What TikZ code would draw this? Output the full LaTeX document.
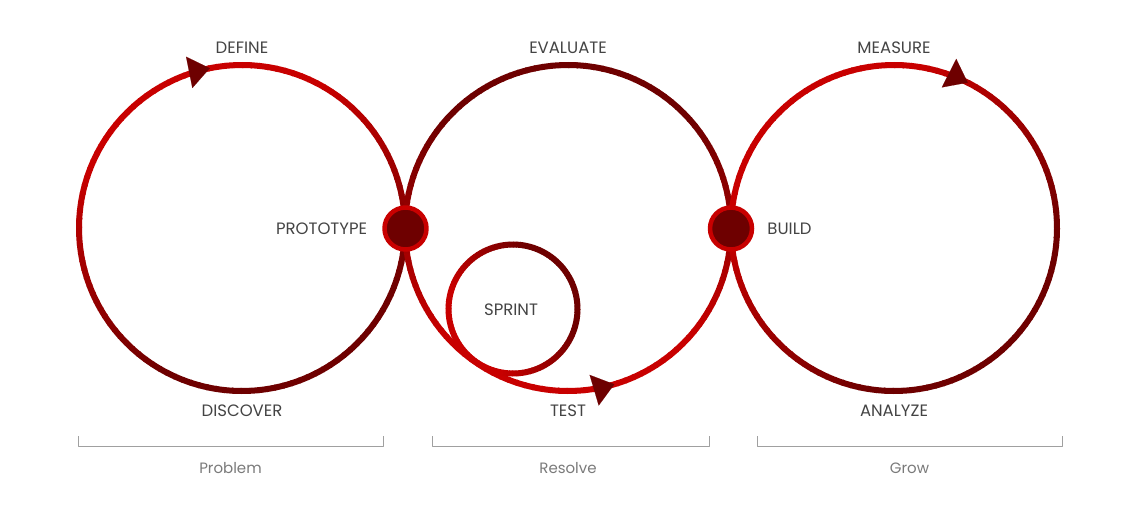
\documentclass[tikz,border=0pt]{standalone}
\usepackage{fontspec}
\setmainfont{Poppins}
\usepackage{tikz}
\usetikzlibrary{arrows.meta,positioning}
\definecolor{ringred}{HTML}{C80000}
\definecolor{ringdark}{HTML}{6E0000}
\definecolor{ink}{HTML}{444444}
\definecolor{soft}{HTML}{7A7A7A}
\definecolor{rule}{HTML}{A0A0A0}
\tikzset{
    every picture/.style={line cap=round,line join=round},
    ring/.style={line width=6pt,line cap=butt},
    hub/.style={circle,draw=ringred,fill=ringdark,line width=4.5pt,
      minimum size=42pt,inner sep=0pt},
    ringarrow/.style={draw=ringdark,line width=0.1pt,
      -{Triangle[length=21pt,width=32pt,fill=ringdark]}},
    lbl/.style={text=ink,inner sep=0pt,font=\fontsize{16.5}{19}\selectfont},
    grouplbl/.style={text=soft,inner sep=0pt,font=\fontsize{15}{17}\selectfont},
    bracket/.style={draw=rule,line width=1pt,line cap=butt}
}

\begin{document}
\begin{tikzpicture}[x=1pt,y=-1pt]
  \useasboundingbox (0,0) rectangle (1139,516);
  \foreach \cx/\cy/\r/\dir in {242/228/163/250,568/228/163/90,894/228/163/230,513/309/64.5/150}{
    \foreach \a in {0,3,...,357}{
      \pgfmathsetmacro\p{max(0,min(100,50+75*cos(\a+1.5-\dir)))}
      \draw[ring,ringred!\p!ringdark] (\cx,\cy) ++(\a:\r) arc[start angle=\a,delta angle=3.5,radius=\r];
    }
  }
  \draw[ringarrow] (242,228) ++(251.6:163) arc[start angle=251.6,end angle=258.6,radius=163];
  \draw[ringarrow] (568,228) ++(80.3:163) arc[start angle=80.3,end angle=73.5,radius=163];
  \draw[ringarrow] (894,228) ++(289.6:163) arc[start angle=289.6,end angle=296.9,radius=163];
  \node[hub] (proto) at (405.5,228.5) {};
  \node[hub] (build) at (731,228.5) {};
  \node[lbl] (define) at (242,48) {DEFINE};
  \node[lbl] (evaluate) at (568,48) {EVALUATE};
  \node[lbl] (measure) at (894,48) {MEASURE};
  \node[lbl,left=15pt of proto] (prototype) {PROTOTYPE};
  \node[lbl,right=13pt of build] (buildlbl) {BUILD};
  \node[lbl] (sprint) at (511,310) {SPRINT};
  \node[lbl] (discover) at (242,411) {DISCOVER};
  \node[lbl] (test) at (568,411) {TEST};
  \node[lbl] (analyze) at (894,411) {ANALYZE};
  \draw[bracket] (78,436) |- (383,446) -- (383,436);
  \draw[bracket] (432,436) |- (709,446) -- (709,436);
  \draw[bracket] (757,436) |- (1062,446) -- (1062,436);
  \node[grouplbl] (problem) at (230.5,468) {Problem};
  \node[grouplbl] (resolve) at (568,468) {Resolve};
  \node[grouplbl] (grow) at (909.5,468) {Grow};
\end{tikzpicture}
\end{document}
